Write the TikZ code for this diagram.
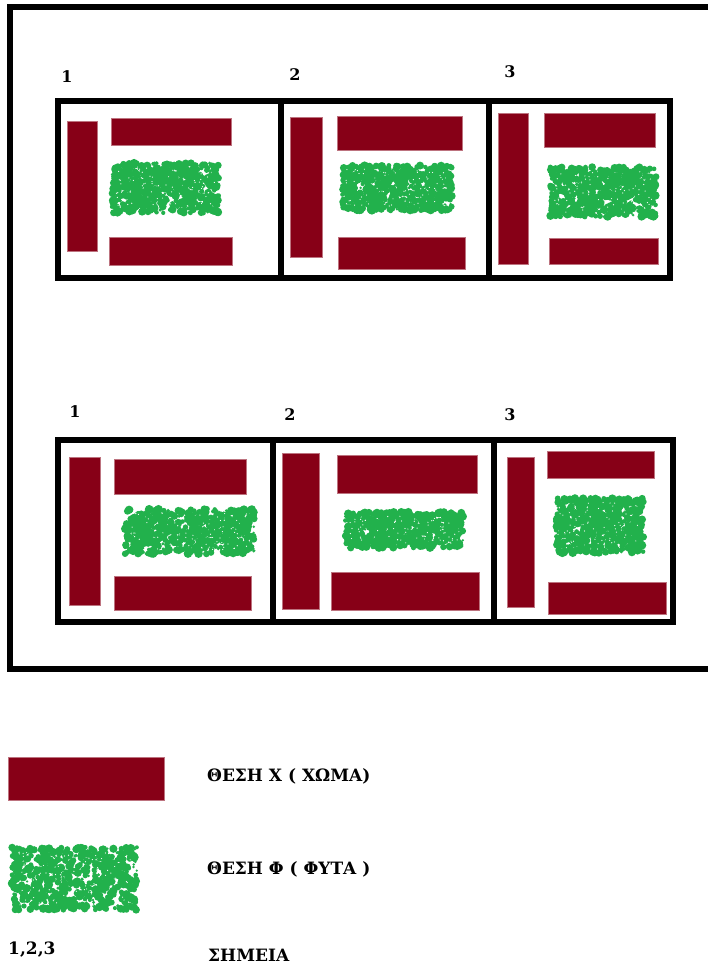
\documentclass[tikz,border=0pt]{standalone}
\usepackage{fontspec}
\setmainfont{DejaVu Serif}
\usetikzlibrary{positioning}
\definecolor{soilred}{HTML}{870017}
\definecolor{plantgreen}{HTML}{22B14C}

% random green speckle patch inside a box: x1,y1,x2,y2,seed
\newcommand{\plantpatch}[5]{%
  \pgfmathsetseed{#5}%
  \foreach \k in {1,...,650}{%
    \pgfmathsetmacro{\px}{#1+4+(#3-#1-8)*rnd}%
    \pgfmathsetmacro{\py}{#2+4+(#4-#2-8)*rnd}%
    \pgfmathsetmacro{\pr}{1.2+3.2*rnd}%
    \fill[plantgreen] (\px,\py) circle (\pr pt);
  }%
  \foreach \k in {1,...,60}{%
    \pgfmathsetmacro{\px}{#1+8+(#3-#1-16)*rnd}%
    \pgfmathsetmacro{\py}{#2+8+(#4-#2-16)*rnd}%
    \fill[white] (\px,\py) circle (0.6pt);
  }%
}

\begin{document}
\begin{tikzpicture}[
    x=1pt, y=-1pt,
    every node/.style={font=\bfseries\fontsize{16}{18}\selectfont, inner sep=0pt},
    frame/.style={draw=black, line width=6pt},
    plotbox/.style={draw=black, line width=6pt},
    soil/.style={fill=soilred, draw=soilred!55!white, line width=0.6pt},
    legtext/.style={anchor=west, font=\bfseries\fontsize{17}{19}\selectfont}
]
\useasboundingbox (0,0) rectangle (708,965);

% --- Outer field ---
\draw[frame] (730,7) -- (10,7) -- (10,669) -- (730,669);

% --- Top row ---
\draw[plotbox] (58,101) rectangle (670,278);
\draw[plotbox] (281,101) -- (281,278);
\draw[plotbox] (489,101) -- (489,278);
\node (t1) at (67,77) {1};
\node (t2) at (295,75) {2};
\node (t3) at (510,72) {3};
% plot 1
\fill[soil] (67,121) rectangle (97,251);
\fill[soil] (111,118) rectangle (231,145);
\fill[soil] (109,237) rectangle (232,265);
\plantpatch{108}{159}{223}{217}{11}
% plot 2
\fill[soil] (290,117) rectangle (322,257);
\fill[soil] (337,116) rectangle (462,150);
\fill[soil] (338,237) rectangle (465,269);
\plantpatch{338}{161}{456}{215}{12}
% plot 3
\fill[soil] (498,113) rectangle (528,264);
\fill[soil] (544,113) rectangle (655,147);
\fill[soil] (549,238) rectangle (658,264);
\plantpatch{546}{163}{660}{221}{13}

% --- Bottom row ---
\draw[plotbox] (58,440) rectangle (673,622);
\draw[plotbox] (273,440) -- (273,622);
\draw[plotbox] (494,440) -- (494,622);
\node (b1) at (75,412) {1};
\node (b2) at (290,415) {2};
\node (b3) at (510,415) {3};
% plot 1
\fill[soil] (69,457) rectangle (100,605);
\fill[soil] (114,459) rectangle (246,494);
\fill[soil] (114,576) rectangle (251,610);
\plantpatch{121}{505}{258}{558}{21}
% plot 2
\fill[soil] (282,453) rectangle (319,609);
\fill[soil] (337,455) rectangle (477,493);
\fill[soil] (331,572) rectangle (479,610);
\plantpatch{341}{508}{467}{552}{22}
% plot 3
\fill[soil] (507,457) rectangle (534,607);
\fill[soil] (547,451) rectangle (654,478);
\fill[soil] (548,582) rectangle (666,614);
\plantpatch{552}{494}{648}{557}{23}

% --- Legend ---
\fill[soil] (8,757) rectangle (164,800);
\node[legtext] (lx) at (207,776) {ΘΕΣΗ Χ ( ΧΩΜΑ)};
\plantpatch{8}{843}{142}{914}{31}
\node[legtext] (lf) at (207,869) {ΘΕΣΗ Φ ( ΦΥΤΑ )};
\node[legtext] (ln) at (8,950) {1,2,3};
\node[legtext] (ls) at (208,955) {ΣΗΜΕΙΑ};
\end{tikzpicture}
\end{document}
